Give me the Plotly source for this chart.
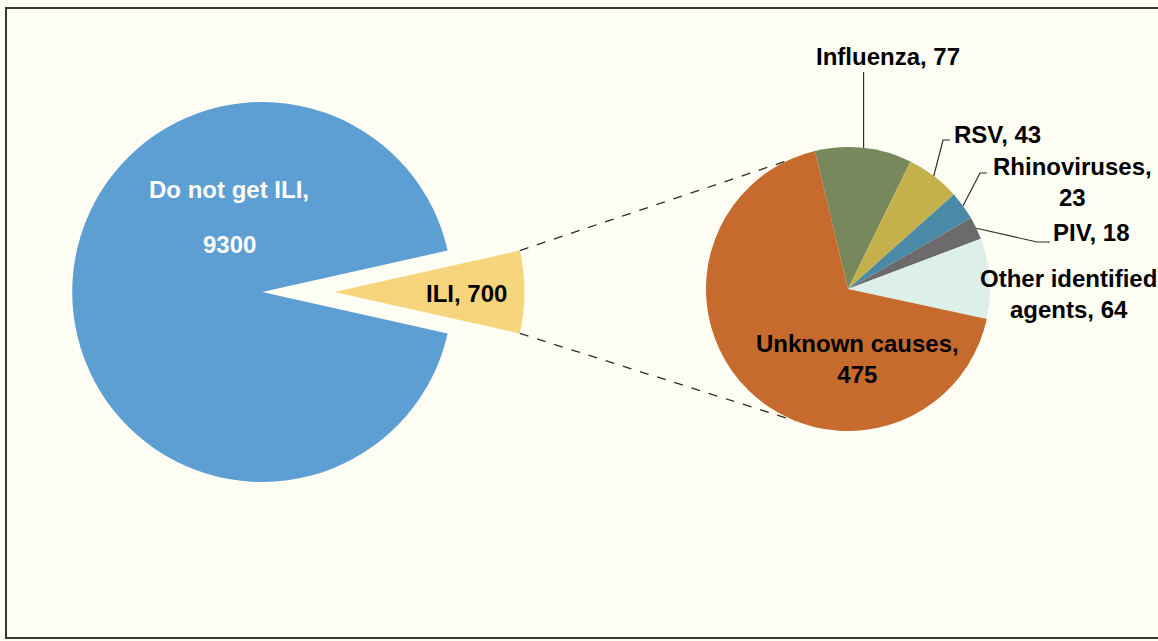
import math
import plotly.graph_objects as go

# ---------------- data ----------------
outer_labels = ["ILI", "Do not get ILI"]
outer_values = [700, 9300]
ili_labels = ["Influenza", "RSV", "Rhinoviruses", "PIV", "Other identified agents", "Unknown causes"]
ili_values = [77, 43, 23, 18, 64, 475]

# ---------------- style ----------------
W, H = 1158, 641
BG = "#fffef4"
outer_colors = ["#f6d57c", "#5d9fd3"]
ili_colors = ["#77885c", "#c5b14c", "#4a8aa6", "#6d6a6c", "#dcefe8", "#c76a2e"]
FONT = "Liberation Sans, Arial, sans-serif"

# geometry in pixels
L_CX, L_CY, L_R, PULL = 262.2, 292, 190, 0.38
R_CX, R_CY, R_R = 848, 289, 142
ili_rot = 90 - 180 * outer_values[0] / sum(outer_values)
right_rot = -13.5


def px(x):
    return x / W


def py(y):
    return 1 - y / H


D = 2 * L_R * (1 + PULL)

fig = go.Figure()
fig.add_trace(go.Pie(
    labels=outer_labels, values=outer_values, sort=False, direction="clockwise",
    rotation=ili_rot, pull=[PULL, 0], marker=dict(colors=outer_colors, line=dict(width=0)),
    textinfo="none", hoverinfo="label+value", showlegend=False,
    domain=dict(x=[0, px(D)], y=[py(L_CY + D / 2 + 15), py(L_CY - D / 2 - 15)]),
))
fig.add_trace(go.Pie(
    labels=ili_labels, values=ili_values, sort=False, direction="clockwise",
    rotation=right_rot, marker=dict(colors=ili_colors, line=dict(width=0)),
    textinfo="none", hoverinfo="label+value", showlegend=False,
    domain=dict(x=[px(R_CX - R_R), px(R_CX + R_R)], y=[py(R_CY + R_R), py(R_CY - R_R)]),
))


def pt(cx, cy, r, ang):
    a = math.radians(ang)
    return cx + r * math.sin(a), cy - r * math.cos(a)


shapes = []
# frame
shapes.append(dict(type="rect", xref="paper", yref="paper", x0=px(6), x1=px(1175),
                   y0=py(638), y1=py(8), line=dict(color="#3b3a28", width=2)))

# connector lines from pulled ILI slice to the breakdown pie
tip_x = L_CX + PULL * L_R
half = 180 * outer_values[0] / sum(outer_values)
a1 = pt(tip_x, L_CY, L_R, 90 - half)
a2 = pt(tip_x, L_CY, L_R, 90 + half)
b1 = pt(R_CX, R_CY, R_R, -25.5)
b2 = pt(R_CX, R_CY, R_R, 202)
for (x0, y0), (x1, y1) in [(a1, b1), (a2, b2)]:
    shapes.append(dict(type="line", xref="paper", yref="paper", x0=px(x0), y0=py(y0),
                       x1=px(x1), y1=py(y1), line=dict(color="#2e2c1c", width=1.3, dash="dash")))

# leader lines
cum = 0
mids = []
tot = sum(ili_values)
for v in ili_values:
    mids.append(right_rot + 360 * (cum + v / 2) / tot)
    cum += v
leader_bends = {
    "Influenza": [(None, 72)],
    "RSV": [(943, 140), (950, 140)],
    "Rhinoviruses": [(980, 173), (987, 173)],
    "PIV": [(1037, 242), (1050, 242)],
}
for lab, bends in leader_bends.items():
    i = ili_labels.index(lab)
    sx, sy = pt(R_CX, R_CY, R_R, mids[i])
    pts = [(sx, sy)] + [((sx if bx is None else bx), by) for bx, by in bends]
    path = "M " + " L ".join(f"{px(x):.5f},{py(y):.5f}" for x, y in pts)
    shapes.append(dict(type="path", xref="paper", yref="paper", path=path,
                       line=dict(color="#2b2b2b", width=1.2)))

annotations = []


def ann(text, x, y, color="black", xanchor="center", size=24):
    annotations.append(dict(text=f"<b>{text}</b>", x=px(x), y=py(y), xref="paper", yref="paper",
                            showarrow=False, xanchor=xanchor, yanchor="middle", align="center",
                            font=dict(family=FONT, size=size, color=color)))


ann(f"{outer_labels[1]},", 229, 189, color="white")
ann(f"{outer_values[1]}", 229, 245, color="white")
ann(f"{outer_labels[0]}, {outer_values[0]}", 466, 293)

txt = {l: f"{l}, {v}" for l, v in zip(ili_labels, ili_values)}
ann(txt["Influenza"], 888, 56)
ann(txt["RSV"], 952, 134, xanchor="left")
ann(txt["Rhinoviruses"].replace(", ", ",<br>"), 1072, 182)
ann(txt["PIV"], 1051, 233, xanchor="left")
ann(txt["Other identified agents"].replace("identified ", "identified<br>"), 1068, 294)
ann(txt["Unknown causes"].replace(", ", ",<br>"), 857, 359)

fig.update_layout(
    width=W, height=H, margin=dict(l=0, r=0, t=0, b=0),
    paper_bgcolor=BG, plot_bgcolor=BG,
    shapes=shapes, annotations=annotations, showlegend=False,
)
fig.write_html("out.html", config={"displayModeBar": False},
               post_script="document.body.style.margin='0';document.body.style.overflow='hidden';")
